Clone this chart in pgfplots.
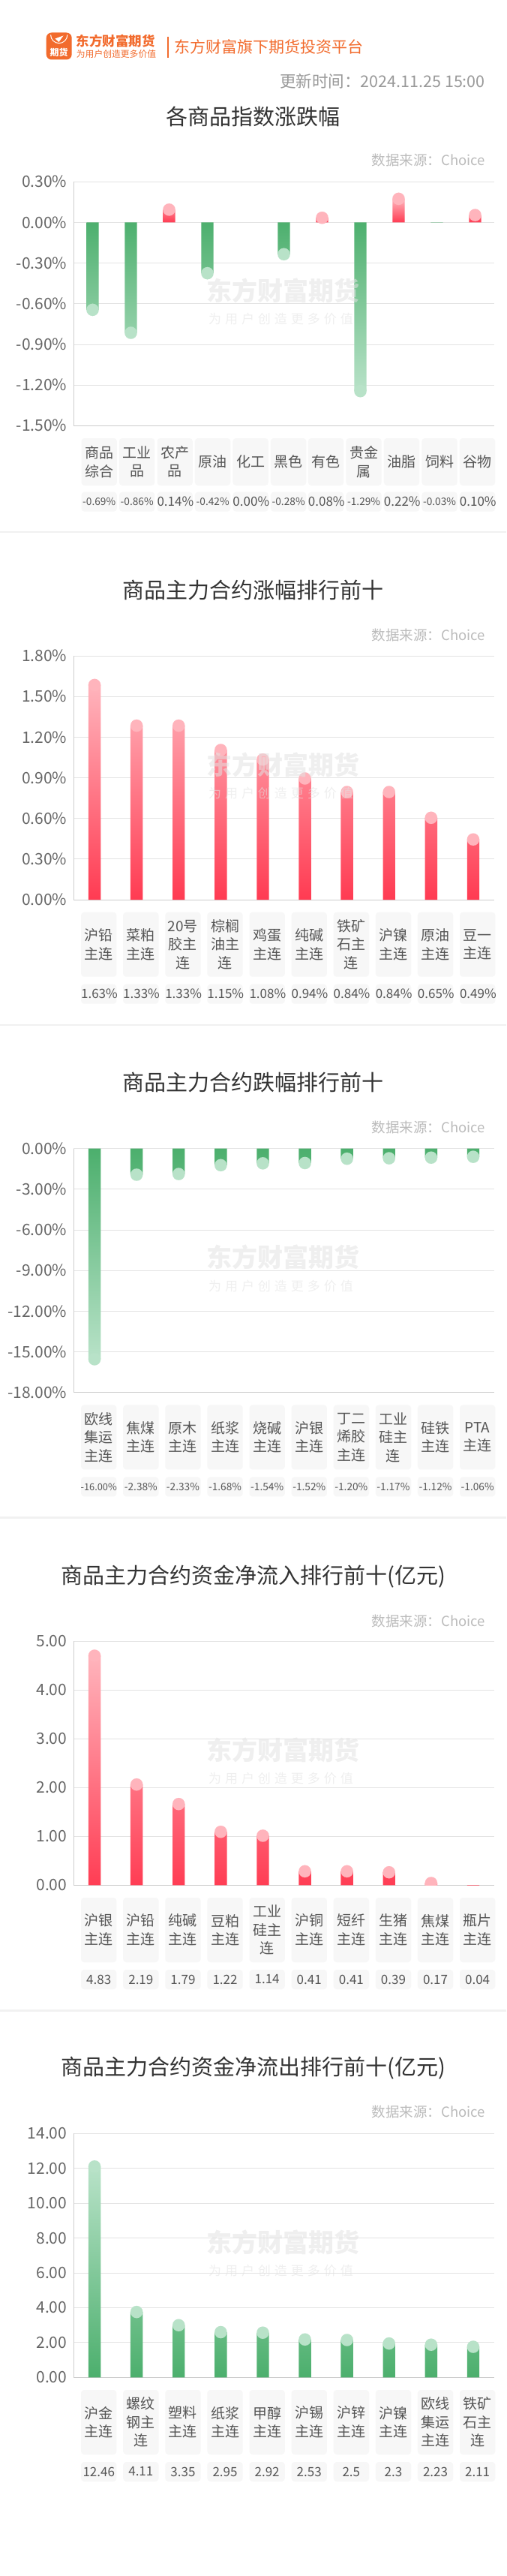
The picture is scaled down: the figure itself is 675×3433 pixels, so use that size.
\documentclass[border=0pt]{standalone}
\usepackage{fontspec}
\setmainfont{Noto Sans CJK SC}
\usepackage{pgfplots}
\usepackage{pgfplotstable}
\pgfplotsset{compat=1.18}

\definecolor{brand}{HTML}{F26B2D}
\definecolor{titlegray}{HTML}{333333}
\definecolor{timegray}{HTML}{999999}
\definecolor{srcgray}{HTML}{BBBBBB}
\definecolor{tickgray}{HTML}{666666}
\definecolor{labelgray}{HTML}{555555}
\definecolor{boxgray}{HTML}{F7F7F7}
\definecolor{gridgray}{HTML}{E3E3E3}
\definecolor{axisgray}{HTML}{CCCCCC}
\definecolor{sepgray}{HTML}{F1F1F1}
\definecolor{wmgray}{HTML}{E2E2E2}
\definecolor{redbase}{HTML}{FF3B52}
\definecolor{redtip}{HTML}{FFB4BC}
\definecolor{greenbase}{HTML}{4CAF6D}
\definecolor{greentip}{HTML}{B8E2C8}

\newcommand\fs[2]{\fontsize{#1}{#2}\selectfont}
% value labels: centred in the box, allowed to overhang evenly
\newcommand\vn[1]{\hbox to 47.3pt{\hss\fs{13.7}{13.7}#1\hss}}
\newcommand\vw[1]{\hbox to 47.3pt{\hss\fs{12.8}{12.8}#1\hss}}

% data: x = category index, v = value
\pgfplotstableread{
x v
2 0.14
6 0.08
8 0.22
10 0.10
}\pa
\pgfplotstableread{
x v
0 -0.69
1 -0.86
3 -0.42
5 -0.28
7 -1.29
9 -0.03
}\pb
\pgfplotstableread{
x v
0 1.63
1 1.33
2 1.33
3 1.15
4 1.08
5 0.94
6 0.84
7 0.84
8 0.65
9 0.49
}\pc
\pgfplotstableread{
x v
0 -16.00
1 -2.38
2 -2.33
3 -1.68
4 -1.54
5 -1.52
6 -1.20
7 -1.17
8 -1.12
9 -1.06
}\pd
\pgfplotstableread{
x v
0 4.83
1 2.19
2 1.79
3 1.22
4 1.14
5 0.41
6 0.41
7 0.39
8 0.17
9 0.04
}\pe
\pgfplotstableread{
x v
0 12.46
1 4.11
2 3.35
3 2.95
4 2.92
5 2.53
6 2.5
7 2.3
8 2.23
9 2.11
}\pf

\pgfplotsset{
  panel/.style={
    scale only axis, width=561pt, height=325pt, anchor=north west,
    xmin=-0.5, xmax=9.5, xtick={0,...,9},
    axis x line*=bottom, axis y line*=left,
    axis line style={draw=axisgray, line width=0.9pt, -},
    ymajorgrids, grid style={draw=gridgray, line width=0.9pt},
    major tick length=0pt, tick style={draw=none},
    clip marker paths=true,
    yticklabel style={font=\fs{21}{21}, text=tickgray, anchor=east, inner sep=0pt, xshift=-8.5pt},
    xticklabel style={anchor=north, inner sep=0pt, yshift=-16.5pt, xshift=5.7pt,
      fill=boxgray, rounded corners=4pt, minimum width=47.3pt, text width=47.3pt,
      minimum height=86pt, align=center, font=\fs{19}{24.5}, text=labelgray},
  },
  vals/.style={extra x ticks={0,...,9}, extra x tick labels={#1},
    extra x tick style={grid=none,
      xticklabel style={yshift=-96pt, minimum height=26pt, font=\fs{17}{17}}}},
  upbar/.style={ybar, bar width=16.4pt, draw=none, top color=#1tip, bottom color=#1base},
  downbar/.style={ybar, bar width=16.4pt, draw=none, top color=#1base, bottom color=#1tip},
  cap/.style={only marks, color=#1, mark=*, mark size=8.2pt,
    mark options={draw=#1, fill=#1, line width=0.01pt}},
}

\newcommand\panelhead[3]{% title, title y, source y
  \node[font=\fs{29}{29}, text=titlegray, inner sep=0pt] at (337.5,-#2) {#1};
  \node[font=\fs{18.5}{18.5}, text=srcgray, anchor=east, inner sep=0pt] at (647,-#3) {数据来源：Choice};
}
\newcommand\wm[1]{% plot top
  \node[font=\bfseries\fs{34}{34}, text=wmgray, opacity=0.55, inner sep=0pt] at (377.8,-#1-145) {东方财富期货};
  \node[font=\fs{17}{17}, text=wmgray, opacity=0.55, inner sep=0pt] at (374.5,-#1-183)
    {为\hspace{5pt}用\hspace{5pt}户\hspace{5pt}创\hspace{5pt}造\hspace{5pt}更\hspace{5pt}多\hspace{5pt}价\hspace{5pt}值};
}

\begin{document}
\begin{tikzpicture}[x=1pt, y=1pt]
\fill[white] (0,0) rectangle (675,-3433);
\useasboundingbox (0,0) rectangle (675,-3433);

% header
\fill[brand, rounded corners=7pt] (61.7,-43.5) rectangle (95.7,-79.5);
\draw[white, line width=1pt] (67.6,-46.5) arc[start angle=180, end angle=360, radius=11.1];
\fill[white] (73.5,-51.5) -- (84.5,-47.5) -- (78.5,-56) -- cycle;
\node[font=\bfseries\fs{12}{12}, text=white, inner sep=0pt] at (78.7,-70) {期货};
\node[font=\bfseries\fs{17.5}{17.5}, text=brand, anchor=west, inner sep=0pt] at (101.7,-54.5) {东方财富期货};
\node[font=\fs{11.8}{11.8}, text=brand, anchor=west, inner sep=0pt] at (101.7,-72) {为用户创造更多价值};
\draw[brand, line width=1.2pt] (224,-49) -- (224,-77);
\node[font=\fs{21}{21}, text=brand, anchor=west, inner sep=0pt] at (232,-62.5) {东方财富旗下期货投资平台};
\node[font=\fs{21.5}{21.5}, text=timegray, anchor=east, inner sep=0pt] at (647,-108) {更新时间：2024.11.25 15:00};

% separators
\foreach \s in {709,1366,2022.3,2679.3}
  \draw[sepgray, line width=2.5pt] (0,-\s) -- (675,-\s);

% ---- panel 1
\panelhead{各商品指数涨跌幅}{155}{213}
\begin{axis}[panel, at={(98pt,-242.3pt)}, xmin=-0.5, xmax=10.5,
  xtick={0.17,1.16,2.15,3.14,4.13,5.12,6.10,7.09,8.08,9.07,10.06},
  xticklabel style={xshift=-5.7pt, minimum height=63pt},
  xticklabels={{商品\\综合},{工业\\品},{农产\\品},原油,化工,黑色,有色,{贵金\\属},油脂,饲料,谷物},
  extra x ticks={0.17,1.16,2.15,3.14,4.13,5.12,6.10,7.09,8.08,9.07,10.06},
  extra x tick labels={\vn{-0.69\%},\vn{-0.86\%},0.14\%,\vn{-0.42\%},0.00\%,\vn{-0.28\%},0.08\%,\vn{-1.29\%},0.22\%,\vn{-0.03\%},0.10\%},
  extra x tick style={grid=none, xticklabel style={yshift=-71.7pt, minimum height=26pt, font=\fs{17}{17}}},
  ymin=-1.5, ymax=0.3, ytick={-1.5,-1.2,-0.9,-0.6,-0.3,0,0.3},
  yticklabels={-1.50\%,-1.20\%,-0.90\%,-0.60\%,-0.30\%,0.00\%,0.30\%}]
\addplot[upbar=red] table[x=x, y expr=\thisrow{v}-0.0454] {\pa};
\addplot[cap=redtip] table[x=x, y expr=\thisrow{v}-0.0454] {\pa};
\end{axis}
\begin{axis}[scale only axis, width=561pt, height=270.83pt, anchor=north west,
  at={(98pt,-296.47pt)}, xmin=-0.5, xmax=10.5, ymin=-1.5, ymax=0,
  hide axis, clip marker paths=true]
\addplot[downbar=green] table[x=x, y expr=\thisrow{v}+0.0454] {\pb};
\addplot[cap=greentip] table[x=x, y expr=\thisrow{v}+0.0454] {\pb};
\end{axis}
\wm{242.3}

% ---- panel 2
\panelhead{商品主力合约涨幅排行前十}{786.7}{846}
\begin{axis}[panel, at={(98pt,-874pt)},
  xticklabels={{沪铅\\主连},{菜粕\\主连},{20号\\胶主\\连},{棕榈\\油主\\连},{鸡蛋\\主连},{纯碱\\主连},{铁矿\\石主\\连},{沪镍\\主连},{原油\\主连},{豆一\\主连}},
  vals={1.63\%,1.33\%,1.33\%,1.15\%,1.08\%,0.94\%,0.84\%,0.84\%,0.65\%,0.49\%},
  ymin=0, ymax=1.8, ytick={0,0.3,0.6,0.9,1.2,1.5,1.8},
  yticklabels={0.00\%,0.30\%,0.60\%,0.90\%,1.20\%,1.50\%,1.80\%}]
\addplot[upbar=red] table[x=x, y expr=\thisrow{v}-0.0454] {\pc};
\addplot[cap=redtip] table[x=x, y expr=\thisrow{v}-0.0454] {\pc};
\end{axis}
\wm{874}

% ---- panel 3
\panelhead{商品主力合约跌幅排行前十}{1442.7}{1502}
\begin{axis}[panel, at={(98pt,-1530.7pt)},
  xticklabels={{欧线\\集运\\主连},{焦煤\\主连},{原木\\主连},{纸浆\\主连},{烧碱\\主连},{沪银\\主连},{丁二\\烯胶\\主连},{工业\\硅主\\连},{硅铁\\主连},{PTA\\主连}},
  vals={\vw{-16.00\%},\vn{-2.38\%},\vn{-2.33\%},\vn{-1.68\%},\vn{-1.54\%},\vn{-1.52\%},\vn{-1.20\%},\vn{-1.17\%},\vn{-1.12\%},\vn{-1.06\%}},
  ymin=-18, ymax=0, ytick={-18,-15,-12,-9,-6,-3,0},
  yticklabels={-18.00\%,-15.00\%,-12.00\%,-9.00\%,-6.00\%,-3.00\%,0.00\%}]
\addplot[downbar=green] table[x=x, y expr=\thisrow{v}+0.4542] {\pd};
\addplot[cap=greentip] table[x=x, y expr=\thisrow{v}+0.4542] {\pd};
\end{axis}
\wm{1530.7}

% ---- panel 4
\panelhead{商品主力合约资金净流入排行前十(亿元)}{2100.7}{2160}
\begin{axis}[panel, at={(98pt,-2187.3pt)},
  xticklabels={{沪银\\主连},{沪铅\\主连},{纯碱\\主连},{豆粕\\主连},{工业\\硅主\\连},{沪铜\\主连},{短纤\\主连},{生猪\\主连},{焦煤\\主连},{瓶片\\主连}},
  vals={4.83,2.19,1.79,1.22,1.14,0.41,0.41,0.39,0.17,0.04},
  ymin=0, ymax=5, ytick={0,1,2,3,4,5},
  yticklabels={0.00,1.00,2.00,3.00,4.00,5.00}]
\addplot[upbar=red] table[x=x, y expr=\thisrow{v}-0.1262] {\pe};
\addplot[cap=redtip] table[x=x, y expr=\thisrow{v}-0.1262] {\pe};
\end{axis}
\wm{2187.3}

% ---- panel 5
\panelhead{商品主力合约资金净流出排行前十(亿元)}{2756}{2814.3}
\begin{axis}[panel, at={(98pt,-2843.3pt)},
  xticklabels={{沪金\\主连},{螺纹\\钢主\\连},{塑料\\主连},{纸浆\\主连},{甲醇\\主连},{沪锡\\主连},{沪锌\\主连},{沪镍\\主连},{欧线\\集运\\主连},{铁矿\\石主\\连}},
  vals={12.46,4.11,3.35,2.95,2.92,2.53,2.5,2.3,2.23,2.11},
  ymin=0, ymax=14, ytick={0,2,4,6,8,10,12,14},
  yticklabels={0.00,2.00,4.00,6.00,8.00,10.00,12.00,14.00}]
\addplot[upbar=green] table[x=x, y expr=\thisrow{v}-0.3532] {\pf};
\addplot[cap=greentip] table[x=x, y expr=\thisrow{v}-0.3532] {\pf};
\end{axis}
\wm{2843.3}
\end{tikzpicture}
\end{document}
